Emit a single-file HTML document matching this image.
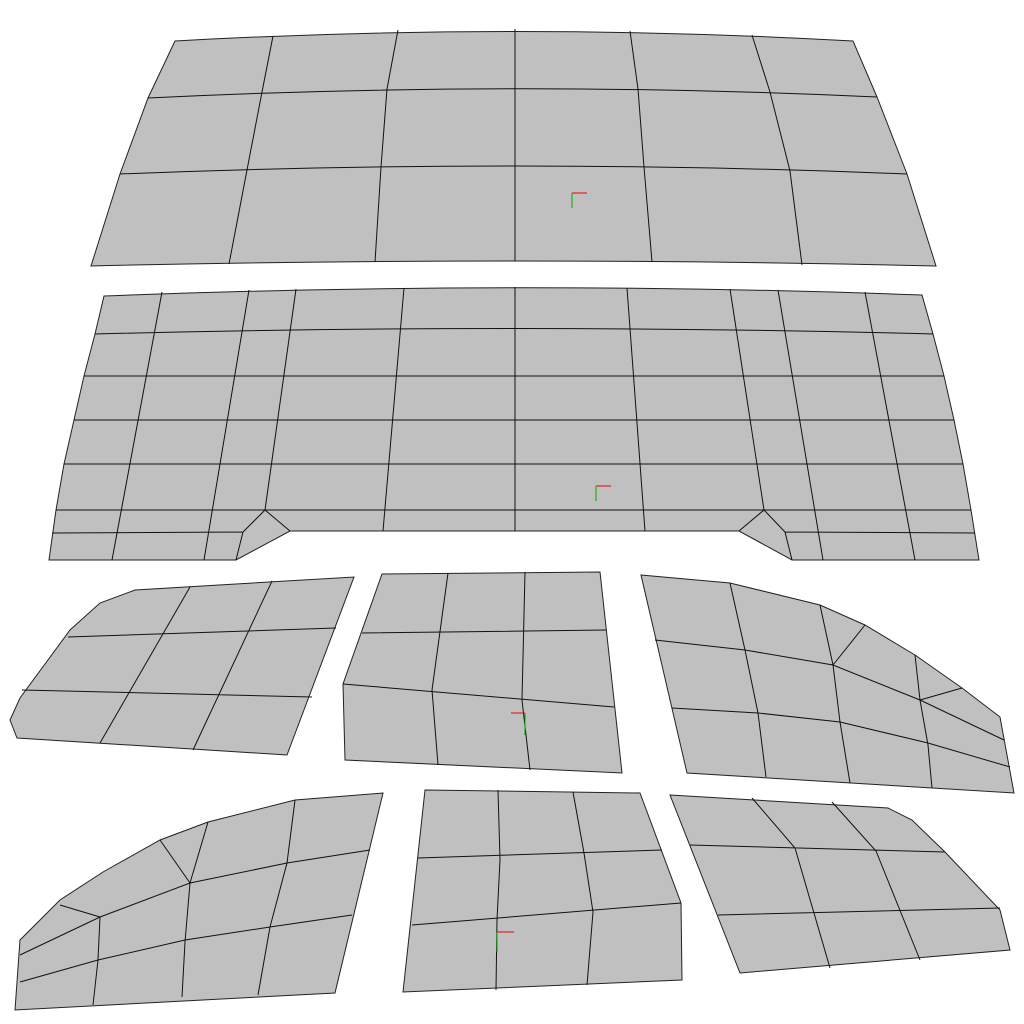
<!DOCTYPE html>
<html><head><meta charset="utf-8"><style>
html,body{margin:0;padding:0;background:#fff;width:1024px;height:1024px;overflow:hidden}
svg{display:block}
.p{fill:#c0c0c0;stroke:#222;stroke-width:1}
.l{fill:none;stroke:#111;stroke-width:1}
</style></head><body>
<svg width="1024" height="1024" viewBox="0 0 1024 1024">
<g>
<path class="p" d="M175,41 Q515,22 853,41 L877,97 L907,174 L936,266 Q515,256 91,266 L120,174 L148,98 Z"/>
<path class="l" d="M148,98 Q515,80 877,97 M120,174 Q515,158 907,174"/>
<path class="l" d="M273,36 L262,92 L247,170 L229,264 M398,30 L387,89 L381,167 L375,262 M515,29 L515,261 M630,31 L638,89 L644,167 L652,262 M752,35 L770,92 L790,171 L802,265"/>
<path d="M572,193 H587" stroke="#e00" stroke-width="1"/><path d="M572,193 V208" stroke="#0a0" stroke-width="1"/>
</g>
<g>
<path class="p" d="M104,296 Q515,280 922,295 L933,334 L944,376 L954,420 L963,464 L971,510 L979,560 L792,560 L739,531 L290,531 L236,560 L49,560 L56,510 L64,464 L74,420 L84,376 L95,334 Z"/>
<path class="l" d="M95,334 Q515,323 933,334 M84,376 L944,376 M74,420 L954,420 M64,464 L963,464 M56,510 L971,510 M52,533 L243,532 M785,532 L975,533 M265,510 L290,531 M764,510 L739,531 M265,510 L243,532 L236,560 M764,510 L785,532 L792,560"/>
<path class="l" d="M515,287 L515,531 M162,292 L112,560 M249,290 L204,560 M296,289 L265,510 M404,288 L383,531 M627,288 L645,531 M730,289 L764,510 M778,290 L823,560 M865,292 L915,560"/>
<path d="M596,486 H611" stroke="#e00"/><path d="M596,486 V501" stroke="#0a0"/>
</g>
<g>
<path class="p" d="M10,720 L20,698 L70,630 L100,603 L135,590 L354,577 L287,755 L17,738 Z"/>
<path class="l" d="M68,637 L336,628 M22,690 L312,697 M190,587 L100,743 M272,581 L193,750"/>
</g>
<g>
<path class="p" d="M382,574 L600,572 L622,773 L345,760 L343,684 Z"/>
<path class="l" d="M362,633 L606,630 M343,684 L614,707 M448,573 L432,690 L438,765 M525,572 L522,700 L530,770"/>
<path d="M511,713 H525" stroke="#e00"/><path d="M525,713 V735" stroke="#0a0"/>
</g>
<g>
<path class="p" d="M641,575 L730,583 L820,605 L865,625 L915,655 L962,688 L1000,717 L1014,793 L687,773 Z"/>
<path class="l" d="M655,640 L745,650 L833,665 L920,700 L1004,740 M672,708 L758,713 L840,722 L928,743 L1010,767 M730,583 L745,650 L758,713 L766,777 M820,605 L833,665 L840,722 L850,783 M865,625 L833,665 M915,655 L920,700 L928,745 L932,788 M962,688 L920,700"/>
</g>
<g>
<path class="p" d="M15,1010 L20,940 L60,900 L103,872 L160,840 L208,822 L295,800 L383,793 L335,993 Z"/>
<path class="l" d="M20,982 L98,960 L185,940 L270,927 L352,915 M20,955 L100,917 L190,883 L287,863 L370,850 M60,905 L100,917 M160,840 L190,883 M208,822 L190,883 L185,942 L182,997 M295,800 L287,863 L270,927 L258,995 M100,917 L98,960 L93,1005"/>
</g>
<g>
<path class="p" d="M425,790 L640,793 L681,903 L682,980 L403,992 Z"/>
<path class="l" d="M418,858 L662,850 M412,925 L681,903 M498,790 L500,860 L497,920 L496,990 M573,792 L584,853 L593,912 L587,985"/>
<path d="M497,932 H514" stroke="#e00"/><path d="M497,932 V952" stroke="#0a0"/>
</g>
<g>
<path class="p" d="M670,795 L888,808 L912,820 L945,852 L1000,910 L1010,950 L740,973 Z"/>
<path class="l" d="M690,845 L945,852 M718,915 L1000,908 M752,798 L795,848 L830,968 M832,802 L876,851 L920,960"/>
</g>
</svg>
</body></html>
